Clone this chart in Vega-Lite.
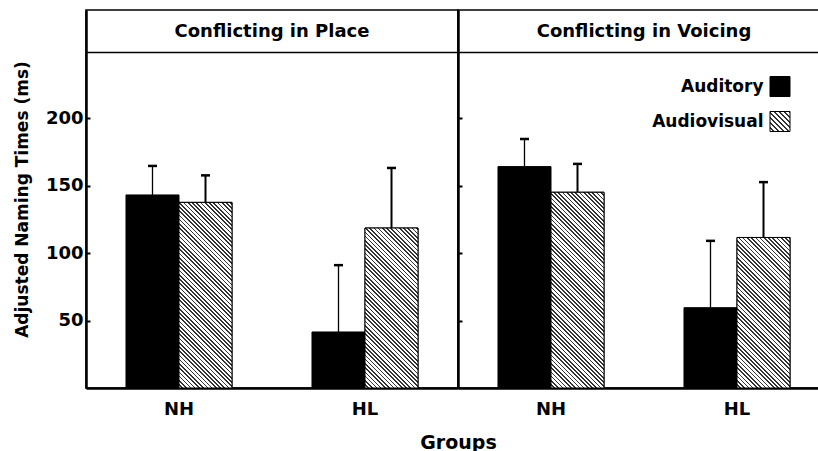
{
  "$schema": "https://vega.github.io/schema/vega-lite/v6.json",
  "padding": {"left": 12, "top": 9, "right": 0, "bottom": 0},
  "bounds": "flush",
  "spacing": 0,
  "params": [
    {"name": "lhatch", "value": [
      {"offset":0,"color":"#fff"},{"offset":0.075,"color":"#fff"},{"offset":0.075,"color":"#333"},{"offset":0.125,"color":"#333"},
      {"offset":0.125,"color":"#fff"},{"offset":0.2,"color":"#fff"},{"offset":0.2,"color":"#333"},{"offset":0.25,"color":"#333"},
      {"offset":0.25,"color":"#fff"},{"offset":0.325,"color":"#fff"},{"offset":0.325,"color":"#333"},{"offset":0.375,"color":"#333"},
      {"offset":0.375,"color":"#fff"},{"offset":0.45,"color":"#fff"},{"offset":0.45,"color":"#333"},{"offset":0.5,"color":"#333"},
      {"offset":0.5,"color":"#fff"},{"offset":0.575,"color":"#fff"},{"offset":0.575,"color":"#333"},{"offset":0.625,"color":"#333"},
      {"offset":0.625,"color":"#fff"},{"offset":0.7,"color":"#fff"},{"offset":0.7,"color":"#333"},{"offset":0.75,"color":"#333"},
      {"offset":0.75,"color":"#fff"},{"offset":0.825,"color":"#fff"},{"offset":0.825,"color":"#333"},{"offset":0.875,"color":"#333"},
      {"offset":0.875,"color":"#fff"},{"offset":0.95,"color":"#fff"},{"offset":0.95,"color":"#333"},{"offset":1,"color":"#333"}
    ]},
    {"name": "hatch", "value": [
      {"offset":0,"color":"#fff"},{"offset":0.01,"color":"#fff"},{"offset":0.01,"color":"#333"},{"offset":0.0167,"color":"#333"},
      {"offset":0.0167,"color":"#fff"},{"offset":0.0267,"color":"#fff"},{"offset":0.0267,"color":"#333"},{"offset":0.0333,"color":"#333"},
      {"offset":0.0333,"color":"#fff"},{"offset":0.0433,"color":"#fff"},{"offset":0.0433,"color":"#333"},{"offset":0.05,"color":"#333"},
      {"offset":0.05,"color":"#fff"},{"offset":0.06,"color":"#fff"},{"offset":0.06,"color":"#333"},{"offset":0.0667,"color":"#333"},
      {"offset":0.0667,"color":"#fff"},{"offset":0.0767,"color":"#fff"},{"offset":0.0767,"color":"#333"},{"offset":0.0833,"color":"#333"},
      {"offset":0.0833,"color":"#fff"},{"offset":0.0933,"color":"#fff"},{"offset":0.0933,"color":"#333"},{"offset":0.1,"color":"#333"},
      {"offset":0.1,"color":"#fff"},{"offset":0.11,"color":"#fff"},{"offset":0.11,"color":"#333"},{"offset":0.1167,"color":"#333"},
      {"offset":0.1167,"color":"#fff"},{"offset":0.1267,"color":"#fff"},{"offset":0.1267,"color":"#333"},{"offset":0.1333,"color":"#333"},
      {"offset":0.1333,"color":"#fff"},{"offset":0.1433,"color":"#fff"},{"offset":0.1433,"color":"#333"},{"offset":0.15,"color":"#333"},
      {"offset":0.15,"color":"#fff"},{"offset":0.16,"color":"#fff"},{"offset":0.16,"color":"#333"},{"offset":0.1667,"color":"#333"},
      {"offset":0.1667,"color":"#fff"},{"offset":0.1767,"color":"#fff"},{"offset":0.1767,"color":"#333"},{"offset":0.1833,"color":"#333"},
      {"offset":0.1833,"color":"#fff"},{"offset":0.1933,"color":"#fff"},{"offset":0.1933,"color":"#333"},{"offset":0.2,"color":"#333"},
      {"offset":0.2,"color":"#fff"},{"offset":0.21,"color":"#fff"},{"offset":0.21,"color":"#333"},{"offset":0.2167,"color":"#333"},
      {"offset":0.2167,"color":"#fff"},{"offset":0.2267,"color":"#fff"},{"offset":0.2267,"color":"#333"},{"offset":0.2333,"color":"#333"},
      {"offset":0.2333,"color":"#fff"},{"offset":0.2433,"color":"#fff"},{"offset":0.2433,"color":"#333"},{"offset":0.25,"color":"#333"},
      {"offset":0.25,"color":"#fff"},{"offset":0.26,"color":"#fff"},{"offset":0.26,"color":"#333"},{"offset":0.2667,"color":"#333"},
      {"offset":0.2667,"color":"#fff"},{"offset":0.2767,"color":"#fff"},{"offset":0.2767,"color":"#333"},{"offset":0.2833,"color":"#333"},
      {"offset":0.2833,"color":"#fff"},{"offset":0.2933,"color":"#fff"},{"offset":0.2933,"color":"#333"},{"offset":0.3,"color":"#333"},
      {"offset":0.3,"color":"#fff"},{"offset":0.31,"color":"#fff"},{"offset":0.31,"color":"#333"},{"offset":0.3167,"color":"#333"},
      {"offset":0.3167,"color":"#fff"},{"offset":0.3267,"color":"#fff"},{"offset":0.3267,"color":"#333"},{"offset":0.3333,"color":"#333"},
      {"offset":0.3333,"color":"#fff"},{"offset":0.3433,"color":"#fff"},{"offset":0.3433,"color":"#333"},{"offset":0.35,"color":"#333"},
      {"offset":0.35,"color":"#fff"},{"offset":0.36,"color":"#fff"},{"offset":0.36,"color":"#333"},{"offset":0.3667,"color":"#333"},
      {"offset":0.3667,"color":"#fff"},{"offset":0.3767,"color":"#fff"},{"offset":0.3767,"color":"#333"},{"offset":0.3833,"color":"#333"},
      {"offset":0.3833,"color":"#fff"},{"offset":0.3933,"color":"#fff"},{"offset":0.3933,"color":"#333"},{"offset":0.4,"color":"#333"},
      {"offset":0.4,"color":"#fff"},{"offset":0.41,"color":"#fff"},{"offset":0.41,"color":"#333"},{"offset":0.4167,"color":"#333"},
      {"offset":0.4167,"color":"#fff"},{"offset":0.4267,"color":"#fff"},{"offset":0.4267,"color":"#333"},{"offset":0.4333,"color":"#333"},
      {"offset":0.4333,"color":"#fff"},{"offset":0.4433,"color":"#fff"},{"offset":0.4433,"color":"#333"},{"offset":0.45,"color":"#333"},
      {"offset":0.45,"color":"#fff"},{"offset":0.46,"color":"#fff"},{"offset":0.46,"color":"#333"},{"offset":0.4667,"color":"#333"},
      {"offset":0.4667,"color":"#fff"},{"offset":0.4767,"color":"#fff"},{"offset":0.4767,"color":"#333"},{"offset":0.4833,"color":"#333"},
      {"offset":0.4833,"color":"#fff"},{"offset":0.4933,"color":"#fff"},{"offset":0.4933,"color":"#333"},{"offset":0.5,"color":"#333"},
      {"offset":0.5,"color":"#fff"},{"offset":0.51,"color":"#fff"},{"offset":0.51,"color":"#333"},{"offset":0.5167,"color":"#333"},
      {"offset":0.5167,"color":"#fff"},{"offset":0.5267,"color":"#fff"},{"offset":0.5267,"color":"#333"},{"offset":0.5333,"color":"#333"},
      {"offset":0.5333,"color":"#fff"},{"offset":0.5433,"color":"#fff"},{"offset":0.5433,"color":"#333"},{"offset":0.55,"color":"#333"},
      {"offset":0.55,"color":"#fff"},{"offset":0.56,"color":"#fff"},{"offset":0.56,"color":"#333"},{"offset":0.5667,"color":"#333"},
      {"offset":0.5667,"color":"#fff"},{"offset":0.5767,"color":"#fff"},{"offset":0.5767,"color":"#333"},{"offset":0.5833,"color":"#333"},
      {"offset":0.5833,"color":"#fff"},{"offset":0.5933,"color":"#fff"},{"offset":0.5933,"color":"#333"},{"offset":0.6,"color":"#333"},
      {"offset":0.6,"color":"#fff"},{"offset":0.61,"color":"#fff"},{"offset":0.61,"color":"#333"},{"offset":0.6167,"color":"#333"},
      {"offset":0.6167,"color":"#fff"},{"offset":0.6267,"color":"#fff"},{"offset":0.6267,"color":"#333"},{"offset":0.6333,"color":"#333"},
      {"offset":0.6333,"color":"#fff"},{"offset":0.6433,"color":"#fff"},{"offset":0.6433,"color":"#333"},{"offset":0.65,"color":"#333"},
      {"offset":0.65,"color":"#fff"},{"offset":0.66,"color":"#fff"},{"offset":0.66,"color":"#333"},{"offset":0.6667,"color":"#333"},
      {"offset":0.6667,"color":"#fff"},{"offset":0.6767,"color":"#fff"},{"offset":0.6767,"color":"#333"},{"offset":0.6833,"color":"#333"},
      {"offset":0.6833,"color":"#fff"},{"offset":0.6933,"color":"#fff"},{"offset":0.6933,"color":"#333"},{"offset":0.7,"color":"#333"},
      {"offset":0.7,"color":"#fff"},{"offset":0.71,"color":"#fff"},{"offset":0.71,"color":"#333"},{"offset":0.7167,"color":"#333"},
      {"offset":0.7167,"color":"#fff"},{"offset":0.7267,"color":"#fff"},{"offset":0.7267,"color":"#333"},{"offset":0.7333,"color":"#333"},
      {"offset":0.7333,"color":"#fff"},{"offset":0.7433,"color":"#fff"},{"offset":0.7433,"color":"#333"},{"offset":0.75,"color":"#333"},
      {"offset":0.75,"color":"#fff"},{"offset":0.76,"color":"#fff"},{"offset":0.76,"color":"#333"},{"offset":0.7667,"color":"#333"},
      {"offset":0.7667,"color":"#fff"},{"offset":0.7767,"color":"#fff"},{"offset":0.7767,"color":"#333"},{"offset":0.7833,"color":"#333"},
      {"offset":0.7833,"color":"#fff"},{"offset":0.7933,"color":"#fff"},{"offset":0.7933,"color":"#333"},{"offset":0.8,"color":"#333"},
      {"offset":0.8,"color":"#fff"},{"offset":0.81,"color":"#fff"},{"offset":0.81,"color":"#333"},{"offset":0.8167,"color":"#333"},
      {"offset":0.8167,"color":"#fff"},{"offset":0.8267,"color":"#fff"},{"offset":0.8267,"color":"#333"},{"offset":0.8333,"color":"#333"},
      {"offset":0.8333,"color":"#fff"},{"offset":0.8433,"color":"#fff"},{"offset":0.8433,"color":"#333"},{"offset":0.85,"color":"#333"},
      {"offset":0.85,"color":"#fff"},{"offset":0.86,"color":"#fff"},{"offset":0.86,"color":"#333"},{"offset":0.8667,"color":"#333"},
      {"offset":0.8667,"color":"#fff"},{"offset":0.8767,"color":"#fff"},{"offset":0.8767,"color":"#333"},{"offset":0.8833,"color":"#333"},
      {"offset":0.8833,"color":"#fff"},{"offset":0.8933,"color":"#fff"},{"offset":0.8933,"color":"#333"},{"offset":0.9,"color":"#333"},
      {"offset":0.9,"color":"#fff"},{"offset":0.91,"color":"#fff"},{"offset":0.91,"color":"#333"},{"offset":0.9167,"color":"#333"},
      {"offset":0.9167,"color":"#fff"},{"offset":0.9267,"color":"#fff"},{"offset":0.9267,"color":"#333"},{"offset":0.9333,"color":"#333"},
      {"offset":0.9333,"color":"#fff"},{"offset":0.9433,"color":"#fff"},{"offset":0.9433,"color":"#333"},{"offset":0.95,"color":"#333"},
      {"offset":0.95,"color":"#fff"},{"offset":0.96,"color":"#fff"},{"offset":0.96,"color":"#333"},{"offset":0.9667,"color":"#333"},
      {"offset":0.9667,"color":"#fff"},{"offset":0.9767,"color":"#fff"},{"offset":0.9767,"color":"#333"},{"offset":0.9833,"color":"#333"},
      {"offset":0.9833,"color":"#fff"},{"offset":0.9933,"color":"#fff"},{"offset":0.9933,"color":"#333"},{"offset":1,"color":"#333"}
    ]}
  ],
  "datasets": {
    "d": [
      {"panel": "Conflicting in Place", "group": "NH", "cond": "Auditory", "value": 143, "err": 164.5},
      {"panel": "Conflicting in Place", "group": "NH", "cond": "Audiovisual", "value": 137.5, "err": 157.5},
      {"panel": "Conflicting in Place", "group": "HL", "cond": "Auditory", "value": 41.5, "err": 91},
      {"panel": "Conflicting in Place", "group": "HL", "cond": "Audiovisual", "value": 118.5, "err": 163},
      {"panel": "Conflicting in Voicing", "group": "NH", "cond": "Auditory", "value": 164, "err": 184.5},
      {"panel": "Conflicting in Voicing", "group": "NH", "cond": "Audiovisual", "value": 145, "err": 166},
      {"panel": "Conflicting in Voicing", "group": "HL", "cond": "Auditory", "value": 59.5, "err": 109},
      {"panel": "Conflicting in Voicing", "group": "HL", "cond": "Audiovisual", "value": 111.5, "err": 152.5}
    ]
  },
  "resolve": {"scale": {"color": "shared"}, "legend": {"color": "shared"}},
  "hconcat": [
    {
      "width": 372, "height": 378,
      "title": {"text": "Conflicting in Place"},
      "data": {"name": "d"},
      "transform": [{"filter": "datum.panel === 'Conflicting in Place'"}],
      "layer": [
        {
          "mark": {"type": "bar", "stroke": "#000", "strokeWidth": 1},
          "encoding": {
            "x": {"field": "group", "type": "nominal", "sort": ["NH", "HL"], "scale": {"paddingInner": 0.43, "paddingOuter": 0.215}, "axis": {"title": "Groups", "titleX": 372, "titleAlign": "center"}},
            "xOffset": {"field": "cond", "type": "nominal", "sort": ["Auditory", "Audiovisual"], "scale": {"domain": ["Auditory", "Audiovisual"], "paddingInner": 0, "paddingOuter": 0}},
            "y": {"field": "value", "type": "quantitative", "stack": null, "scale": {"domain": [0, 280], "nice": false}, "axis": {"values": [50, 100, 150, 200], "title": "Adjusted Naming Times (ms)"}},
            "color": {"field": "cond", "type": "nominal", "scale": {"domain": ["Auditory", "Audiovisual"], "range": ["#000", {"expr": "{gradient: 'linear', x1: 0, y1: 1, x2: 1, y2: 0, stops: lhatch}"}]}, "legend": {"orient": "none", "legendX": 683.5, "legendY": 66, "direction": "vertical", "title": null, "symbolType": "square", "symbolSize": 400, "symbolStrokeColor": "#000", "symbolStrokeWidth": 1, "labelAlign": "right", "labelOffset": -27, "labelFontSize": 17, "labelFontWeight": "bold", "labelFont": "DejaVu Sans", "labelColor": "#000", "labelLimit": 0, "rowPadding": 10, "padding": 0}}
          }
        },
        {
          "transform": [{"filter": "datum.cond === 'Audiovisual'"}],
          "mark": {"type": "bar", "stroke": "#000", "strokeWidth": 1},
          "encoding": {
            "x": {"field": "group", "type": "nominal", "sort": ["NH", "HL"], "axis": {"title": "Groups", "titleX": 372, "titleAlign": "center"}},
            "xOffset": {"field": "cond", "type": "nominal", "sort": ["Auditory", "Audiovisual"]},
            "y": {"field": "value", "type": "quantitative", "stack": null, "axis": {"values": [50, 100, 150, 200], "title": "Adjusted Naming Times (ms)"}},
            "fill": {"value": {"expr": "{gradient: 'linear', x1: 0, y1: 1, x2: 254.56 * 53 / (2809 + pow(datum.value * 1.35, 2)), y2: 1 - 254.56 * datum.value * 1.35 / (2809 + pow(datum.value * 1.35, 2)), stops: hatch}"}}
          }
        },
        {
          "mark": {"type": "rule", "color": "#000"},
          "encoding": {
            "x": {"field": "group", "type": "nominal", "sort": ["NH", "HL"], "axis": {"title": "Groups", "titleX": 372, "titleAlign": "center"}},
            "xOffset": {"field": "cond", "type": "nominal", "sort": ["Auditory", "Audiovisual"]},
            "y": {"field": "value", "type": "quantitative", "axis": {"values": [50, 100, 150, 200], "title": "Adjusted Naming Times (ms)"}},
            "y2": {"field": "err"},
            "strokeWidth": {"condition": {"test": "datum.cond === 'Audiovisual'", "value": 2}, "value": 1.3}
          }
        },
        {
          "mark": {"type": "tick", "color": "#000", "size": 9, "thickness": 2.5, "opacity": 1},
          "encoding": {
            "x": {"field": "group", "type": "nominal", "sort": ["NH", "HL"], "axis": {"title": "Groups", "titleX": 372, "titleAlign": "center"}},
            "xOffset": {"field": "cond", "type": "nominal", "sort": ["Auditory", "Audiovisual"]},
            "y": {"field": "err", "type": "quantitative", "axis": {"values": [50, 100, 150, 200], "title": "Adjusted Naming Times (ms)"}}
          }
        },
        {
          "data": {"values": [{}]},
          "mark": {"type": "rule", "color": "#000", "strokeWidth": 1.5},
          "encoding": {
            "y": {"datum": 248.5, "type": "quantitative", "axis": {"values": [50, 100, 150, 200], "title": "Adjusted Naming Times (ms)"}}
          }
        }
      ]
    },
    {
      "width": 372, "height": 378,
      "title": {"text": "Conflicting in Voicing"},
      "data": {"name": "d"},
      "transform": [{"filter": "datum.panel === 'Conflicting in Voicing'"}],
      "layer": [
        {
          "mark": {"type": "bar", "stroke": "#000", "strokeWidth": 1},
          "encoding": {
            "x": {"field": "group", "type": "nominal", "sort": ["NH", "HL"], "scale": {"paddingInner": 0.43, "paddingOuter": 0.215}, "axis": {"title": null}},
            "xOffset": {"field": "cond", "type": "nominal", "sort": ["Auditory", "Audiovisual"], "scale": {"domain": ["Auditory", "Audiovisual"], "paddingInner": 0, "paddingOuter": 0}},
            "y": {"field": "value", "type": "quantitative", "stack": null, "scale": {"domain": [0, 280], "nice": false}, "axis": {"values": [50, 100, 150, 200], "labels": false, "title": null}},
            "color": {"field": "cond", "type": "nominal", "scale": {"domain": ["Auditory", "Audiovisual"], "range": ["#000", {"expr": "{gradient: 'linear', x1: 0, y1: 1, x2: 1, y2: 0, stops: lhatch}"}]}, "legend": {"orient": "none", "legendX": 683.5, "legendY": 66, "direction": "vertical", "title": null, "symbolType": "square", "symbolSize": 400, "symbolStrokeColor": "#000", "symbolStrokeWidth": 1, "labelAlign": "right", "labelOffset": -27, "labelFontSize": 17, "labelFontWeight": "bold", "labelFont": "DejaVu Sans", "labelColor": "#000", "labelLimit": 0, "rowPadding": 10, "padding": 0}}
          }
        },
        {
          "transform": [{"filter": "datum.cond === 'Audiovisual'"}],
          "mark": {"type": "bar", "stroke": "#000", "strokeWidth": 1},
          "encoding": {
            "x": {"field": "group", "type": "nominal", "sort": ["NH", "HL"], "axis": {"title": null}},
            "xOffset": {"field": "cond", "type": "nominal", "sort": ["Auditory", "Audiovisual"]},
            "y": {"field": "value", "type": "quantitative", "stack": null, "axis": {"values": [50, 100, 150, 200], "labels": false, "title": null}},
            "fill": {"value": {"expr": "{gradient: 'linear', x1: 0, y1: 1, x2: 254.56 * 53 / (2809 + pow(datum.value * 1.35, 2)), y2: 1 - 254.56 * datum.value * 1.35 / (2809 + pow(datum.value * 1.35, 2)), stops: hatch}"}}
          }
        },
        {
          "mark": {"type": "rule", "color": "#000"},
          "encoding": {
            "x": {"field": "group", "type": "nominal", "sort": ["NH", "HL"], "axis": {"title": null}},
            "xOffset": {"field": "cond", "type": "nominal", "sort": ["Auditory", "Audiovisual"]},
            "y": {"field": "value", "type": "quantitative", "axis": {"values": [50, 100, 150, 200], "labels": false, "title": null}},
            "y2": {"field": "err"},
            "strokeWidth": {"condition": {"test": "datum.cond === 'Audiovisual'", "value": 2}, "value": 1.3}
          }
        },
        {
          "mark": {"type": "tick", "color": "#000", "size": 9, "thickness": 2.5, "opacity": 1},
          "encoding": {
            "x": {"field": "group", "type": "nominal", "sort": ["NH", "HL"], "axis": {"title": null}},
            "xOffset": {"field": "cond", "type": "nominal", "sort": ["Auditory", "Audiovisual"]},
            "y": {"field": "err", "type": "quantitative", "axis": {"values": [50, 100, 150, 200], "labels": false, "title": null}}
          }
        },
        {
          "data": {"values": [{}]},
          "mark": {"type": "rule", "color": "#000", "strokeWidth": 1.5},
          "encoding": {
            "y": {"datum": 248.5, "type": "quantitative", "axis": {"values": [50, 100, 150, 200], "labels": false, "title": null}}
          }
        }
      ]
    }
  ],
  "config": {
    "font": "DejaVu Sans",
    "background": "#ffffff",
    "view": {"stroke": "#000", "strokeWidth": 1.5},
    "title": {"fontSize": 18, "fontWeight": "bold", "font": "DejaVu Sans", "color": "#000", "offset": -31, "baseline": "alphabetic", "anchor": "middle"},
    "axis": {"grid": false, "domainColor": "#000", "domainWidth": 2.5, "tickColor": "#000", "tickWidth": 2, "labelColor": "#000", "labelFont": "DejaVu Sans", "labelFontWeight": "bold", "labelFontSize": 18, "titleColor": "#000", "titleFont": "DejaVu Sans", "titleFontWeight": "bold"},
    "axisX": {"ticks": false, "labelAngle": 0, "labelPadding": 12, "titleFontSize": 19, "titlePadding": 15},
    "axisY": {"tickSize": -4, "labelPadding": 7, "titleFontSize": 17, "titlePadding": 14}
  }
}
